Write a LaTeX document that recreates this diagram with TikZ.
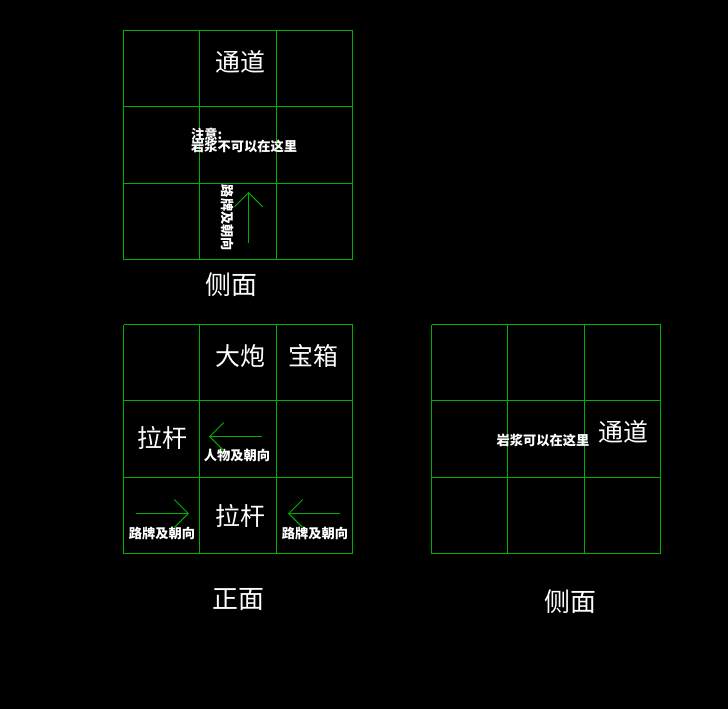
\documentclass[tikz,border=0pt]{standalone}
\usepackage{fontspec}
\newfontfamily\cjk{Noto Sans CJK SC}
\usetikzlibrary{arrows.meta}
\definecolor{cadgreen}{RGB}{0,176,0}
\tikzstyle{cell} = [draw=cadgreen, 
line width=1bp]
\tikzstyle{big} = [text=white, 
inner sep=0pt, 
font=\cjk\fontsize{25}{25}\selectfont]
\tikzstyle{tag} = [text=white, 
inner sep=0pt, 
font=\cjk\bfseries\fontsize{13.3}{14}\selectfont]
\tikzstyle{sign} = [draw=cadgreen, 
line width=0.9pt, 
-{Straight Barb[length=14pt,width=28pt]}]

\begin{document}
\begin{tikzpicture}[x=1bp, y=-1bp]

\fill[black] (0,0) rectangle (728,709);
\useasboundingbox (0,0) rectangle (728,709);

% three 3x3 grids
\foreach \ox/\oy in {123/30, 123/324, 431/324}
  \foreach \k in {0,76,153,229} {
    \draw[cell] (\ox+\k+0.5,\oy+0.5) -- ++(0,229);
    \draw[cell] (\ox+0.5,\oy+\k+0.5) -- ++(229,0);
  }

% side view, top
\node (tongdaoA) [big] at (240,62) {通道};
\node (zhuyi) [tag, anchor=west] at (191,134) {注意:};
\node (nolava) [tag, anchor=west] at (191,146) {岩浆不可以在这里};
\node (signA) [tag, rotate=-90] at (228,218) {路牌及朝向};
\coordinate (signAs) at (248.5,243);
\coordinate (signAe) at (248.5,192);
\draw[sign] (signAs) -- (signAe);
\node (sideA) [big, font=\cjk\fontsize{26}{26}\selectfont] at (231,285) {侧面};

% front view
\node (dapao) [big] at (240,356) {大炮};
\node (baoxiang) [big] at (313,356) {宝箱};
\node (laganA) [big] at (162,438) {拉杆};
\node (renwu) [tag] at (237,455) {人物及朝向};
\coordinate (renwus) at (262,436.5);
\coordinate (renwue) at (209,436.5);
\draw[sign] (renwus) -- (renwue);
\node (laganB) [big] at (240,516) {拉杆};
\node (signB) [tag] at (162,533) {路牌及朝向};
\coordinate (signBs) at (136,513.5);
\coordinate (signBe) at (189,513.5);
\draw[sign] (signBs) -- (signBe);
\node (signC) [tag] at (315,533) {路牌及朝向};
\coordinate (signCs) at (340,513.5);
\coordinate (signCe) at (288,513.5);
\draw[sign] (signCs) -- (signCe);
\node (front) [big, font=\cjk\fontsize{26}{26}\selectfont] at (238,600) {正面};

% side view, right
\node (lava) [tag] at (543,440) {岩浆可以在这里};
\node (tongdaoB) [big] at (623,432) {通道};
\node (sideB) [big, font=\cjk\fontsize{26}{26}\selectfont] at (570,602) {侧面};

\end{tikzpicture}
\end{document}
